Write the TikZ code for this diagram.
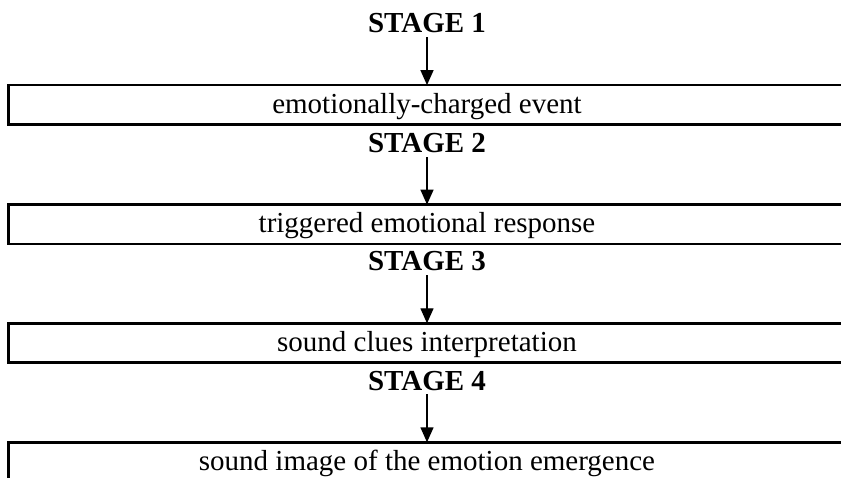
\documentclass[tikz,border=0pt]{standalone}
\usepackage{fontspec}
\setmainfont{Liberation Serif}
\usetikzlibrary{arrows.meta}
\begin{document}
\begin{tikzpicture}[x=1pt,y=-1pt,
  stagelabel/.style={font=\fontsize{29}{34}\selectfont\bfseries, inner sep=0pt, text depth=4pt, anchor=base},
  stagebox/.style={minimum width=600pt, minimum height=39pt, inner sep=0pt,
    text height=23pt, text depth=6pt, font=\fontsize{29}{34}\selectfont},
  boxline/.style={draw, line width=2.6pt, line join=miter},
  flow/.style={-{Triangle[length=15pt,width=13pt]}, line width=1.4pt}]
\useasboundingbox (0,0) rectangle (841,478);
\fill[white] (0,0) rectangle (841,478);
\coordinate (L) at (8.6,0);
\coordinate (R) at (870,0);

\node[stagelabel] (s1) at (427,33) {STAGE 1};
\node[stagebox] (b1) at (427,104.8) {emotionally-charged event};
\node[stagelabel] (s2) at (427,153) {STAGE 2};
\node[stagebox] (b2) at (427,224.3) {triggered emotional response};
\node[stagelabel] (s3) at (427,271) {STAGE 3};
\node[stagebox] (b3) at (427,343) {sound clues interpretation};
\node[stagelabel] (s4) at (427,390) {STAGE 4};
\node[stagebox] (b4) at (427,462) {sound image of the emotion emergence};

\foreach \b in {b1,b2,b3}
  \draw[boxline] (\b.north -| R) -- (\b.north -| L) -- (\b.south -| L) -- (\b.south -| R);
\coordinate (bottomedge) at (0,490);
\draw[boxline] (b4.north -| R) -- (b4.north -| L) -- (bottomedge -| L);

\draw[flow] (s1.south) -- (b1.north);
\draw[flow] (s2.south) -- (b2.north);
\draw[flow] (s3.south) -- (b3.north);
\draw[flow] (s4.south) -- (b4.north);
\end{tikzpicture}
\end{document}
